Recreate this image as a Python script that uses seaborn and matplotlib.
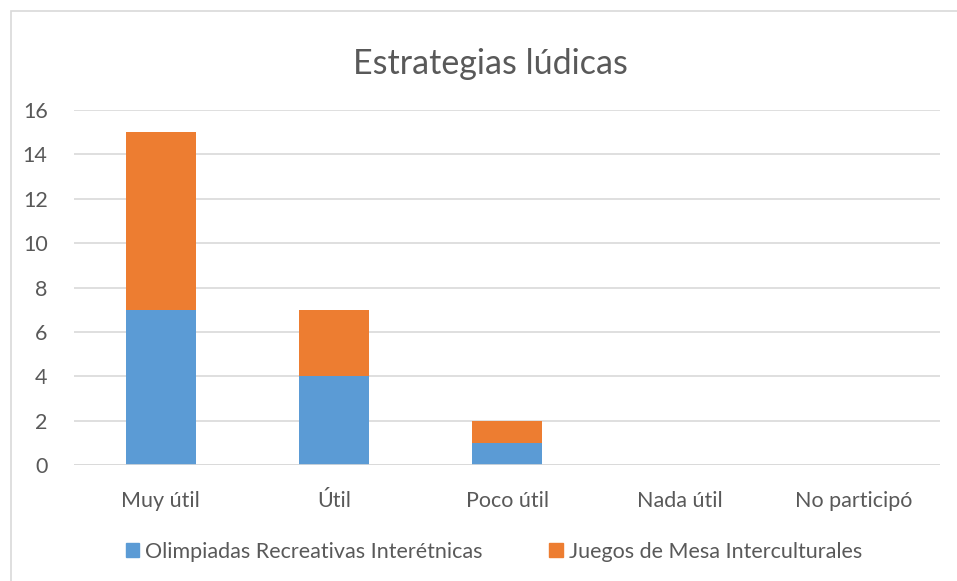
import matplotlib
matplotlib.use("Agg")
import matplotlib.pyplot as plt
import seaborn as sns
import pandas as pd
from matplotlib.patches import Rectangle

# data
categories = ["Muy útil", "Útil", "Poco útil", "Nada útil", "No participó"]
olimpiadas = [7, 4, 1, 0, 0]
juegos = [8, 3, 1, 0, 0]
series_names = ["Olimpiadas Recreativas Interétnicas", "Juegos de Mesa Interculturales"]
colors = ["#5B9BD5", "#ED7D31"]
yticks = [0, 2, 4, 6, 8, 10, 12, 14, 16]

sns.set_style("white")
plt.rcParams["font.family"] = ["Lato", "DejaVu Sans"]

df = pd.DataFrame({"cat": categories, "olim": olimpiadas, "juegos": juegos})

fig = plt.figure(figsize=(9.57, 5.81), dpi=100)
W, H = 957, 581
ax = fig.add_axes([74 / W, 1 - 465 / H, (940 - 74) / W, (465 - 110) / H])

# stacked bars
sns.barplot(data=df, x="cat", y="olim", color=colors[0], width=0.405,
            saturation=1, linewidth=0, ax=ax, zorder=3)
sns.barplot(data=df, x="cat", y="juegos", color=colors[1], width=0.405,
            saturation=1, linewidth=0, bottom=df["olim"], ax=ax, zorder=3)

ax.set_xlim(-0.5, 4.5)
ax.set_ylim(0, 16)
ax.set_yticks(yticks)
ax.yaxis.grid(True, color="#D9D9D9", lw=1.2, zorder=0)
ax.xaxis.grid(False)
for s in ax.spines.values():
    s.set_visible(False)
ax.axhline(0, color="#D9D9D9", lw=1.2, zorder=4)
ax.tick_params(axis="both", length=0, labelsize=15.5, colors="#595959")
ax.tick_params(axis="x", pad=19)
ax.tick_params(axis="y", pad=19)
for lab in ax.get_yticklabels():
    lab.set_horizontalalignment("right")
    lab.set_y(-0.2)
ax.set_xlabel("")
ax.set_ylabel("")

fig.text(490 / W, 1 - 74 / H, "Estrategias lúdicas", fontsize=24.5, color="#595959",
         ha="center", va="baseline")

# legend at the bottom
handles = [Rectangle((0, 0), 1, 1, color=c) for c in colors]
fig.legend(handles, series_names, loc="center", bbox_to_anchor=(494 / W, 1 - 552 / H),
           ncol=2, frameon=False, fontsize=15.5, handlelength=0.62, handleheight=0.62,
           handletextpad=0.28, columnspacing=3.1, labelcolor="#595959")

# chart border
fig.patches.append(Rectangle((10.5 / W, -0.01), (W + 5) / W, (H - 11.5) / H + 0.01,
                             transform=fig.transFigure, fill=False,
                             edgecolor="#D9D9D9", lw=1.2))

fig.savefig("out.png", dpi=100)
